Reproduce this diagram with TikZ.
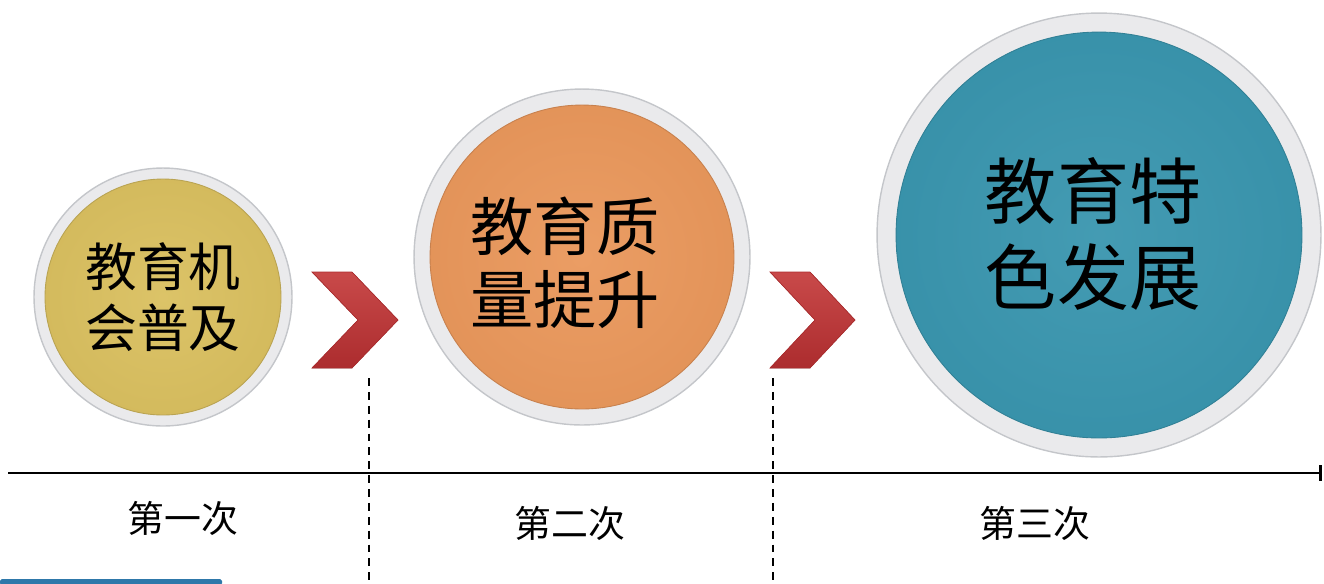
\documentclass[tikz,border=0pt]{standalone}
\usepackage{fontspec}
\setmainfont{Noto Sans CJK SC}
\usepackage{tikz}
\usetikzlibrary{arrows.meta}
\usetikzlibrary{positioning}
\definecolor{ringgray}{RGB}{234,234,236}
\definecolor{edgegray}{RGB}{196,198,202}
\definecolor{goldc}{RGB}{218,192,96}
\definecolor{orangec}{RGB}{234,152,92}
\definecolor{tealc}{RGB}{58,150,175}
\definecolor{chevred}{RGB}{196,58,58}
\definecolor{chevdark}{RGB}{172,44,46}
\definecolor{barblue}{RGB}{46,120,170}

\begin{document}
\begin{tikzpicture}[x=0.02cm, y=-0.02cm,
	ring/.style={circle, draw=edgegray, line width=0.8pt, fill=ringgray, inner sep=0pt},
	disk/.style={circle, draw=#1!85!black, line width=0.5pt, inner color=#1!95!white, outer color=#1!97!black, inner sep=0pt},
	btntext/.style={align=center, text=black},
	chev/.style={top color=chevred!92!white, bottom color=chevdark, draw=chevdark, line width=0.4pt},
	period/.style={font=\fontsize{21}{24}\selectfont}]
			\useasboundingbox (0,0) rectangle (1324,583);
			\node[ring, minimum size=5.16cm] (Ring1) at (163,297) {};
			\node[disk=goldc, minimum size=4.72cm] (Disk1) at (Ring1) {};
			\node[btntext, font=\fontsize{29.5}{35}\selectfont] (Txt1) at (163,297) {教育机\\会普及};
			\node[ring, minimum size=6.72cm] (Ring2) at (582,257) {};
			\node[disk=orangec, minimum size=6.08cm] (Disk2) at (Ring2) {};
			\node[btntext, font=\fontsize{36}{41.5}\selectfont] (Txt2) at (565,263) {教育质\\量提升};
			\node[ring, minimum size=8.88cm] (Ring3) at (1099,235) {};
			\node[disk=tealc, minimum size=8.12cm] (Disk3) at (Ring3) {};
			\node[btntext, font=\fontsize{41}{49}\selectfont] (Txt3) at (1093,234) {教育特\\色发展};
			\fill[chev] (312,272) -- (352,272) -- (398,320) -- (352,368) -- (312,368) -- (358,320) -- cycle;
			\fill[chev] (770,272) -- (810,272) -- (855,320) -- (810,368) -- (770,368) -- (815,320) -- cycle;
			\coordinate (AxisL) at (8,473);
			\coordinate (AxisR) at (1322,473);
			\draw[line width=1.4pt, -{Bar[width=9pt, line width=1.8pt]}] (AxisL) -- (AxisR);
			\coordinate (CutA) at (369,378);
			\coordinate (CutB) at (773,378);
			\draw[line width=0.7pt, dash pattern=on 4.5pt off 3.4pt] (CutA) -- (369,583);
			\draw[line width=0.7pt, dash pattern=on 4.5pt off 3.4pt] (CutB) -- (773,583);
			\node[period] (Per1) at (183,518) {第一次};
			\node[period] (Per2) at (570,523) {第二次};
			\node[period] (Per3) at (1035,523) {第三次};
			\fill[barblue, rounded corners=1pt] (0,579) rectangle (222,585);
		\end{tikzpicture}
\end{document}
